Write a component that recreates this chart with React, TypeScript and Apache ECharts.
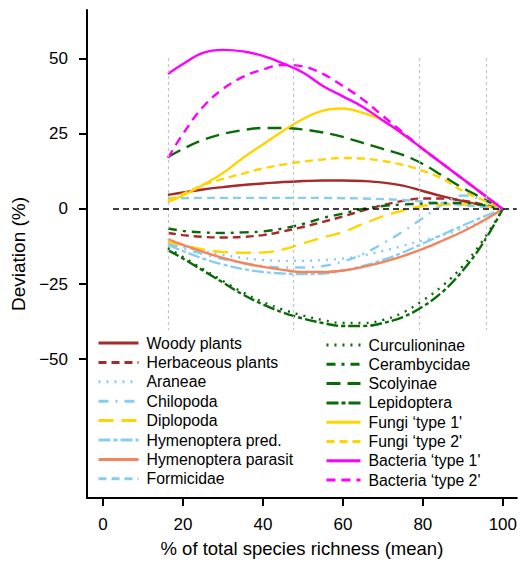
import React, { useEffect, useRef } from "react";
import * as echarts from "echarts";

const xs = [16.25, 20, 25, 30, 35, 40, 45, 50, 55, 60, 65, 70, 75, 80, 85, 90, 95, 100];

const woody = [4.7, 5.5, 6.5, 7.3, 8, 8.5, 9, 9.3, 9.5, 9.5, 9.3, 8.8, 7.8, 6, 4.2, 2.6, 1.2, 0];
const herbaceous = [-8, -8.7, -9.3, -9.5, -9.3, -8.7, -7.5, -6, -4.3, -2.5, -0.5, 1.3, 2.7, 3.5, 3.5, 2.8, 1.5, 0];
const araneae = [-11, -12.5, -14, -15.3, -16.3, -17, -17.3, -17.3, -17, -16.5, -15.5, -14, -12.3, -10.5, -8.7, -6.5, -4, 0];
const chilopoda = [-11.5, -13, -15, -16.7, -18, -19, -19.5, -19.5, -19, -17.5, -15, -11.5, -7.5, -3, 1.5, 4.5, 3, 0];
const diplopoda = [-11, -12, -13.5, -14.3, -14.6, -14.5, -13.5, -11.5, -9.5, -7.7, -5, -2.5, -0.5, 1, 1.5, 1.5, 1, 0];
const hymPred = [-12, -14, -16.5, -18.5, -20, -21, -21.5, -21.7, -21.5, -20.5, -19, -17, -14.5, -11.5, -8.5, -5.5, -2.7, 0];
const hymParasit = [-10, -12, -14.3, -16.3, -18, -19.3, -20.3, -21, -21, -20.5, -19.3, -17.7, -15.7, -13.3, -10.5, -7.5, -4, 0];
const formicidae = [3.5, 3.6, 3.7, 3.7, 3.7, 3.7, 3.7, 3.7, 3.7, 3.6, 3.5, 3.3, 3, 2.5, 2, 1.3, 0.7, 0];
const curculioninae = [-13, -16, -20, -24, -27.8, -31, -33.5, -35.5, -37, -38, -38, -37, -34.5, -30.5, -25.5, -19, -10.5, 0];
const cerambycidae = [-6.5, -7.3, -7.8, -8, -7.8, -7.5, -6.5, -5, -3, -1.5, 0, 1, 1.5, 1.8, 2, 2, 1.3, 0];
const scolyinae = [17.3, 20, 23, 25, 26.3, 27, 27, 26.5, 25.5, 24, 22, 20, 18, 15, 11, 7, 3.5, 0];
const lepidoptera = [-13.7, -16.5, -20.5, -24.5, -28.5, -31.8, -34.5, -36.5, -38, -39, -39, -38, -36, -32.5, -27.5, -20.5, -11.5, 0];
const fungi1 = [2.3, 4.5, 8, 12, 17, 21.5, 26, 30, 32.8, 33.5, 32, 29.5, 25, 20, 15, 10, 5, 0];
const fungi2 = [3, 5, 8, 10, 11.8, 13.5, 14.8, 15.8, 16.5, 17, 16.8, 16, 14.7, 12.7, 10, 6, 3, 0];
const bacteria1 = [45, 48.3, 52, 53, 52.5, 51, 48.5, 45.5, 41, 37.5, 34, 29.5, 25, 20, 15, 10, 5, 0];
const bacteria2 = [17, 25, 34, 40, 44, 46.5, 48, 47.5, 45, 41, 36.5, 31, 25.5, 20, 15, 10, 5, 0];

const areaLabels = ["0.1 ha", "1 ha", "10 ha", "100 ha"];
const areaLineX = [16.25, 47.5, 79, 95.75];
const areaLabelX = [18.4, 48.6, 79.1, 94.9];

const xTicks = [0, 20, 40, 60, 80, 100];
const yTicks = [-50, -25, 0, 25, 50];

const FONT = "'Liberation Sans', Arial, Helvetica, sans-serif";

const DARKRED = "#a52a2a";
const LBLUE = "#87cdf0";
const GOLD = "#ffd400";
const CORAL = "#f4845a";
const DGREEN = "#0a6a0a";
const MAGENTA = "#ff00ff";

const defs = [
  { name: "Woody plants", values: woody, color: DARKRED, dash: "solid" as any },
  { name: "Herbaceous plants", values: herbaceous, color: DARKRED, dash: [8, 5] },
  { name: "Araneae", values: araneae, color: LBLUE, dash: [2, 6] },
  { name: "Chilopoda", values: chilopoda, color: LBLUE, dash: [10, 7, 2, 7] },
  { name: "Diplopoda", values: diplopoda, color: GOLD, dash: [15, 8] },
  { name: "Hymenoptera pred.", values: hymPred, color: LBLUE, dash: [12, 3, 4, 3] },
  { name: "Hymenoptera parasit", values: hymParasit, color: CORAL, dash: "solid" as any },
  { name: "Formicidae", values: formicidae, color: LBLUE, dash: [8, 5] },
  { name: "Curculioninae", values: curculioninae, color: DGREEN, dash: [2, 6] },
  { name: "Cerambycidae", values: cerambycidae, color: DGREEN, dash: [9, 6, 3, 6] },
  { name: "Scolyinae", values: scolyinae, color: DGREEN, dash: [14, 7] },
  { name: "Lepidoptera", values: lepidoptera, color: DGREEN, dash: [12, 3, 4, 3] },
  { name: "Fungi \u2018type 1'", values: fungi1, color: GOLD, dash: "solid" as any },
  { name: "Fungi \u2018type 2'", values: fungi2, color: GOLD, dash: [8, 5] },
  { name: "Bacteria \u2018type 1'", values: bacteria1, color: MAGENTA, dash: "solid" as any },
  { name: "Bacteria \u2018type 2'", values: bacteria2, color: MAGENTA, dash: [9, 6] },
];

export default function App() {
  const ref = useRef<HTMLDivElement>(null);
  useEffect(() => {
    if (!ref.current) return;
    const chart = echarts.init(ref.current, null, { renderer: "svg" });

    const lineSeries = defs.map((d) => ({
      name: d.name,
      type: "line",
      data: xs.map((x, i) => [x, d.values[i]]),
      smooth: 0.4,
      symbol: "none",
      z: 3,
      lineStyle: { color: d.color, width: 2.4, type: d.dash },
      itemStyle: { color: d.color },
      emphasis: { disabled: true },
    }));

    const guides = {
      name: "guides",
      type: "line",
      data: [],
      silent: true,
      z: 1,
      markLine: {
        symbol: "none",
        silent: true,
        label: { show: false },
        data: [
          ...areaLineX.map((x) => [
            { coord: [x, 50.3], lineStyle: { color: "#c4c4c4", width: 1.2, type: [3, 3] } },
            { coord: [x, -40.3] },
          ]),
          [
            { coord: [2.5, 0], lineStyle: { color: "#000", width: 1.5, type: [6, 4] } },
            { coord: [103.5, 0] },
          ],
        ],
      },
    };

    const labelsSeries = {
      name: "areaLabels",
      type: "scatter",
      symbol: "none",
      silent: true,
      data: areaLabels.map((t, i) => ({ value: [areaLabelX[i], 54.3], name: t })),
      label: {
        show: true,
        position: "inside",
        formatter: (p: any) => p.name,
        color: "#b3b3b3",
        fontSize: 18,
        fontFamily: FONT,
      },
    };

    const emptySet = {
      name: "emptyset",
      type: "scatter",
      symbol: "none",
      silent: true,
      data: [{ value: [2.2, 0], name: "\u2205" }],
      label: {
        show: true,
        position: "inside",
        formatter: (p: any) => p.name,
        color: "#000",
        fontSize: 19,
        fontFamily: "'DejaVu Sans', sans-serif",
      },
    };

    const legendCommon = {
      orient: "vertical",
      itemWidth: 40,
      itemHeight: 14,
      itemGap: 3.4,
      padding: 0,
      selectedMode: false,
      itemStyle: { opacity: 0 },
      textStyle: { fontSize: 15.8, fontFamily: FONT, color: "#000", padding: [0, 0, 0, 3] },
      lineStyle: { width: 3 },
    };

    chart.setOption({
      animation: false,
      backgroundColor: "#fff",
      textStyle: { fontFamily: FONT },
      grid: { left: 87, right: 0, top: 10, bottom: 65, containLabel: false },
      legend: [
        { ...legendCommon, left: 97, top: 335, data: defs.slice(0, 8).map((d) => d.name) },
        { ...legendCommon, left: 325, top: 337, itemWidth: 34, itemGap: 3.3, data: defs.slice(8).map((d) => d.name) },
      ],
      xAxis: {
        type: "value",
        min: -4,
        max: 103.5,
        name: "% of total species richness (mean)",
        nameLocation: "middle",
        nameGap: 41,
        nameTextStyle: { fontSize: 18.5, color: "#000", fontFamily: FONT },
        axisLine: { show: true, onZero: false, lineStyle: { color: "#000", width: 2 } },
        axisTick: { show: true, length: 8, lineStyle: { color: "#000", width: 2 }, customValues: xTicks },
        axisLabel: { fontSize: 17, color: "#000", margin: 18, customValues: xTicks, fontFamily: FONT },
        splitLine: { show: false },
      },
      yAxis: {
        type: "value",
        min: -96.3,
        max: 66.3,
        name: "Deviation (%)",
        nameLocation: "middle",
        nameGap: 57,
        nameTextStyle: { fontSize: 19, color: "#000", fontFamily: FONT },
        axisLine: { show: true, onZero: false, lineStyle: { color: "#000", width: 2 } },
        axisTick: { show: true, length: 8, lineStyle: { color: "#000", width: 2 }, customValues: yTicks },
        axisLabel: {
          fontSize: 17,
          color: "#000",
          margin: 19,
          customValues: yTicks,
          fontFamily: FONT,
          formatter: (v: number) => (v < 0 ? "\u2212" + Math.abs(v) : String(v)),
        },
        splitLine: { show: false },
      },
      series: [guides, labelsSeries, emptySet, ...lineSeries],
    });
    return () => chart.dispose();
  }, []);
  return <div ref={ref} style={{ position: "fixed", left: 0, top: 0, width: 520, height: 563 }} />;
}
